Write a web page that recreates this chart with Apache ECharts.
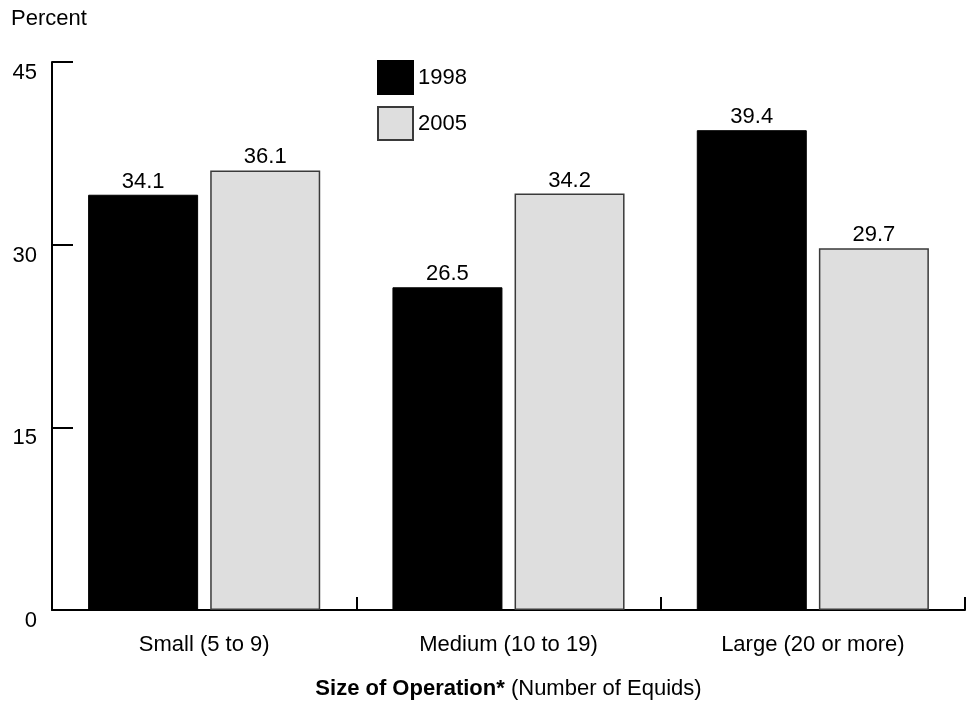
<!DOCTYPE html>
<html>
<head>
<meta charset="utf-8">
<script src="https://cdn.jsdelivr.net/npm/echarts@6/dist/echarts.min.js"></script>
<style>
html,body{margin:0;padding:0;background:#fff;overflow:hidden;}
#chart{width:971px;height:705px;}
</style>
</head>
<body>
<div id="chart"></div>
<script>
const categories = ['Small (5 to 9)', 'Medium (10 to 19)', 'Large (20 or more)'];
const seriesNames = ['1998', '2005'];
const values1998 = [34.1, 26.5, 39.4];
const values2005 = [36.1, 34.2, 29.7];
const yTicks = [0, 15, 30, 45];

const FONT = '"Liberation Sans", Arial, Helvetica, sans-serif';
const FS = 22;

const chart = echarts.init(document.getElementById('chart'));
chart.setOption({
  animation: false,
  backgroundColor: '#fff',
  textStyle: { fontFamily: FONT, color: '#000' },
  grid: { left: 52, width: 913, top: 62, height: 551, containLabel: false },
  graphic: [{
    type: 'text', left: 11, top: 8,
    style: { text: 'Percent', font: FS + 'px ' + FONT, fill: '#000' }
  }],
  legend: {
    data: seriesNames,
    orient: 'vertical',
    left: 377, top: 60, padding: 0,
    itemWidth: 35, itemHeight: 33, itemGap: 11,
    icon: 'rect',
    textStyle: { fontSize: FS, color: '#000', fontFamily: FONT, padding: [0, 0, 0, 0] }
  },
  xAxis: {
    type: 'category',
    data: categories,
    axisLine: { lineStyle: { color: '#000', width: 2 } },
    axisTick: { show: true, inside: true, length: 13, lineStyle: { color: '#000', width: 2 } },
    axisLabel: { fontSize: FS, color: '#000', margin: 24, fontFamily: FONT },
    name: '{b|Size of Operation*} (Number of Equids)',
    nameLocation: 'middle',
    nameGap: 68,
    nameTextStyle: {
      fontSize: FS, color: '#000', fontFamily: FONT,
      rich: { b: { fontSize: FS, fontWeight: 'bold', color: '#000', fontFamily: FONT } }
    }
  },
  yAxis: {
    type: 'value',
    min: yTicks[0], max: yTicks[yTicks.length - 1], interval: yTicks[1] - yTicks[0],
    axisLine: { show: true, lineStyle: { color: '#000', width: 2 } },
    axisTick: { show: true, inside: true, length: 21, lineStyle: { color: '#000', width: 2 } },
    splitLine: { show: false },
    axisLabel: { fontSize: FS, color: '#000', margin: 15, verticalAlign: 'top', fontFamily: FONT }
  },
  series: [
    {
      name: seriesNames[0], type: 'bar', data: values1998,
      barWidth: 110, barGap: '11%',
      itemStyle: { color: '#000', borderColor: '#000', borderWidth: 1 },
      label: { show: true, position: 'top', distance: 2, fontSize: FS, color: '#000', fontFamily: FONT }
    },
    {
      name: seriesNames[1], type: 'bar', data: values2005,
      barWidth: 110, barGap: '11%',
      itemStyle: { color: '#dedede', borderColor: '#3a3a3a', borderWidth: 1.5 },
      label: { show: true, position: 'top', distance: 2, fontSize: FS, color: '#000', fontFamily: FONT }
    }
  ]
});
</script>
</body>
</html>
